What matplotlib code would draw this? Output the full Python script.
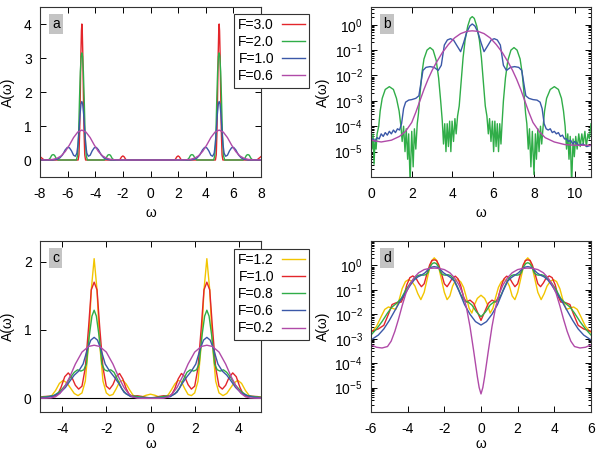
import numpy as np
import matplotlib
matplotlib.use('Agg')
import matplotlib.pyplot as plt
from matplotlib.ticker import LogLocator, NullFormatter, FixedLocator
from matplotlib.lines import Line2D

plt.rcParams['font.family'] = ['Liberation Sans', 'DejaVu Sans']
plt.rcParams['font.size'] = 10
plt.rcParams['mathtext.fontset'] = 'custom'
plt.rcParams['mathtext.rm'] = 'Liberation Sans'
plt.rcParams['mathtext.default'] = 'regular'
plt.rcParams['axes.unicode_minus'] = False

C_RED = '#e3262b'
C_GREEN = '#30ad48'
C_BLUE = '#3b58a8'
C_PURPLE = '#b04aa8'
C_YELLOW = '#f2c500'

# ---------------- panel a (linear) ----------------
a_labels = ['F=3.0', 'F=2.0', 'F=1.0', 'F=0.6']
a_red_x = [-8, -7.85, -7.7, -5.24, -5.18, -5.13, -5.08, -5.04, -5.0, -4.97, -4.94, -4.9, -4.86, -4.81, -4.76, -4.7,
           -2.3, -2.2, -2.1, -2.0, -1.9, -1.8, -1.7, 1.7, 1.8, 1.9, 2.0, 2.1, 2.2, 2.3,
           4.7, 4.76, 4.81, 4.86, 4.9, 4.94, 4.97, 5.0, 5.04, 5.08, 5.13, 5.18, 5.24, 7.7, 7.85, 8]
a_red_y = [0.1, 0.05, 0, 0, 0.15, 0.8, 2.0, 3.1, 3.8, 4.0, 3.8, 3.1, 2.0, 0.8, 0.15, 0,
           0, 0.02, 0.09, 0.12, 0.09, 0.02, 0, 0, 0.02, 0.09, 0.12, 0.09, 0.02, 0,
           0, 0.15, 0.8, 2.0, 3.1, 3.8, 4.0, 3.8, 3.1, 2.0, 0.8, 0.15, 0, 0, 0.05, 0.1]
a_green_x = [-8, -7.4, -7.27, -7.15, -7.05, -6.95, -6.83, -6.7,
             -5.37, -5.29, -5.21, -5.14, -5.08, -5.02, -4.97, -4.92, -4.86, -4.8, -4.73, -4.65, -4.57,
             -3.35, -3.22, -3.1, -3.0, -2.9, -2.78, -2.65, 2.65, 2.78, 2.9, 3.0, 3.1, 3.22, 3.35,
             4.57, 4.65, 4.73, 4.8, 4.86, 4.92, 4.97, 5.02, 5.08, 5.14, 5.21, 5.29, 5.37,
             6.7, 6.83, 6.95, 7.05, 7.15, 7.27, 7.4, 8]
a_green_y = [0, 0, 0.05, 0.14, 0.16, 0.14, 0.05, 0,
             0, 0.12, 0.7, 1.8, 2.6, 3.05, 3.15, 3.05, 2.6, 1.8, 0.7, 0.12, 0,
             0, 0.05, 0.14, 0.16, 0.14, 0.05, 0, 0, 0.05, 0.14, 0.16, 0.14, 0.05, 0,
             0, 0.12, 0.7, 1.8, 2.6, 3.05, 3.15, 3.05, 2.6, 1.8, 0.7, 0.12, 0,
             0, 0.05, 0.14, 0.16, 0.14, 0.05, 0, 0]
a_blue_x = [-8, -7.07, -6.82, -6.57, -6.37, -6.17, -6.02, -5.87, -5.72, -5.57, -5.44, -5.33, -5.25, -5.17, -5.10, -5.03,
            -4.97, -4.91, -4.84, -4.77, -4.69, -4.61, -4.50, -4.37, -4.22, -4.07, -3.92, -3.77, -3.57, -3.37, -3.12, -2.87,
            2.87, 3.12, 3.37, 3.57, 3.77, 3.92, 4.07, 4.22, 4.37, 4.50, 4.61, 4.69, 4.77, 4.84, 4.91,
            4.97, 5.03, 5.10, 5.17, 5.25, 5.33, 5.44, 5.57, 5.72, 5.87, 6.02, 6.17, 6.37, 6.57, 6.82, 7.07, 8]
a_blue_y = [0, 0, 0.015, 0.06, 0.15, 0.3, 0.37, 0.36, 0.27, 0.14, 0.11, 0.2, 0.45, 0.9, 1.35, 1.65,
            1.72, 1.65, 1.35, 0.9, 0.45, 0.2, 0.11, 0.14, 0.27, 0.36, 0.37, 0.3, 0.15, 0.06, 0.015, 0,
            0, 0.015, 0.06, 0.15, 0.3, 0.37, 0.36, 0.27, 0.14, 0.11, 0.2, 0.45, 0.9, 1.35, 1.65,
            1.72, 1.65, 1.35, 0.9, 0.45, 0.2, 0.11, 0.14, 0.27, 0.36, 0.37, 0.3, 0.15, 0.06, 0.015, 0, 0]
a_purple_x = [-8, -7.97, -7.47, -7.07, -6.77, -6.47, -6.17, -5.87, -5.57, -5.27, -4.97, -4.67, -4.37, -4.07, -3.77,
              -3.47, -3.17, -2.87, -2.47, -1.97,
              1.97, 2.47, 2.87, 3.17, 3.47, 3.77, 4.07, 4.37, 4.67, 4.97, 5.27, 5.57, 5.87, 6.17, 6.47, 6.77,
              7.07, 7.47, 7.97, 8]
a_purple_y = [0, 0, 0.003, 0.018, 0.05, 0.12, 0.25, 0.44, 0.66, 0.82, 0.88, 0.82, 0.66, 0.44, 0.25,
              0.12, 0.05, 0.018, 0.003, 0,
              0, 0.003, 0.018, 0.05, 0.12, 0.25, 0.44, 0.66, 0.82, 0.88, 0.82, 0.66, 0.44, 0.25, 0.12, 0.05,
              0.018, 0.003, 0, 0]

# ---------------- panel b (log10 of A) ----------------
b_green_x = [0.0, 0.05, 0.1, 0.15, 0.2, 0.25, 0.3, 0.38, 0.45, 0.55, 0.7, 0.9, 1.1, 1.25, 1.38, 1.47, 1.53, 1.6,
             1.67, 1.73, 1.8, 1.85, 1.92, 2.0, 2.07, 2.13, 2.2, 2.27, 2.33, 2.42, 2.5, 2.6, 2.75, 2.9, 3.05, 3.2,
             3.32, 3.42, 3.5, 3.56, 3.62, 3.68, 3.74, 3.8, 3.86, 3.92, 3.98, 4.05, 4.12, 4.18, 4.25, 4.33, 4.42,
             4.52, 4.62, 4.75, 4.87, 4.97, 5.07, 5.19, 5.32, 5.42, 5.52, 5.61, 5.69, 5.76, 5.82, 5.89, 5.96, 6.02,
             6.08, 6.14, 6.2, 6.26, 6.32, 6.38, 6.44, 6.5, 6.6, 6.72, 6.87, 7.02, 7.17, 7.32, 7.42, 7.5, 7.59,
             7.65, 7.72, 7.78, 7.85, 7.92, 8.0, 8.07, 8.12, 8.19, 8.25, 8.32, 8.38, 8.45, 8.52, 8.62, 8.8, 9.0,
             9.2, 9.35, 9.45, 9.53, 9.6, 9.66, 9.72, 9.78, 9.85, 9.92, 9.98, 10.05, 10.12, 10.2, 10.27, 10.35,
             10.42, 10.5, 10.57, 10.65, 10.72, 10.8]
b_green_log = [-4.4, -4.9, -4.3, -5.5, -4.5, -4.9, -4.3, -4.0, -3.4, -2.9, -2.55, -2.44, -2.55, -2.9, -3.4, -4.0,
               -4.6, -4.0, -5.0, -4.1, -5.3, -4.3, -6.2, -4.2, -5.6, -4.1, -4.9, -3.9, -3.5, -2.6, -1.9, -1.35,
               -1.0, -0.9, -1.0, -1.4, -2.1, -3.0, -3.8, -4.7, -3.9, -5.0, -3.9, -4.8, -3.8, -5.0, -3.8, -4.6,
               -3.7, -4.3, -3.6, -3.2, -2.3, -1.3, -0.6, -0.05, 0.25, 0.32, 0.25, -0.05, -0.6, -1.3, -2.3, -3.2,
               -3.6, -4.3, -3.7, -4.6, -3.8, -5.0, -3.8, -4.8, -3.9, -5.0, -3.9, -4.7, -3.8, -3.0, -2.1, -1.4,
               -1.0, -0.9, -1.0, -1.35, -1.9, -2.6, -3.5, -3.9, -4.9, -4.1, -5.6, -4.2, -5.9, -4.3, -5.3, -4.1,
               -5.0, -4.0, -4.7, -4.0, -3.4, -2.9, -2.55, -2.44, -2.55, -2.9, -3.4, -4.0, -4.9, -4.3, -5.3, -4.4,
               -6.3, -4.5, -5.2, -4.4, -4.9, -4.3, -4.8, -4.3, -4.7, -4.2, -4.8, -4.3, -4.5, -3.9]
b_blue_x = [0.0, 0.1, 0.2, 0.3, 0.4, 0.5, 0.6, 0.7, 0.8, 0.9, 1.0, 1.1, 1.2, 1.3, 1.4, 1.5, 1.6, 1.7, 1.85, 2.0,
            2.2, 2.35, 2.45, 2.55, 2.7, 2.9, 3.1, 3.3, 3.45, 3.6, 3.75, 3.9, 4.05, 4.2, 4.4, 4.55, 4.7, 4.85,
            4.97, 5.1, 5.25, 5.4, 5.55, 5.75, 5.9, 6.05, 6.2, 6.35, 6.5, 6.65, 6.85, 7.05, 7.25, 7.4, 7.5, 7.6,
            7.75, 7.95, 8.15, 8.3, 8.4, 8.5, 8.6, 8.7, 8.8, 8.9, 9.0, 9.1, 9.2, 9.3, 9.4, 9.5, 9.6, 9.7, 9.8,
            9.9, 10.0, 10.2, 10.4, 10.6, 10.8]
b_blue_log = [-4.55, -4.5, -4.6, -4.45, -4.5, -4.3, -4.4, -4.25, -4.35, -4.2, -4.3, -4.15, -4.25, -4.1, -4.15,
              -3.9, -3.3, -3.05, -2.97, -2.95, -2.9, -2.8, -2.3, -1.8, -1.68, -1.65, -1.68, -1.8, -1.6, -0.8,
              -0.6, -0.55, -0.6, -0.8, -1.06, -0.7, -0.3, -0.05, 0.03, -0.05, -0.3, -0.7, -1.06, -0.8, -0.6,
              -0.55, -0.6, -0.8, -1.6, -1.8, -1.68, -1.65, -1.68, -1.8, -2.3, -2.8, -2.9, -2.95, -2.97, -3.05,
              -3.3, -3.9, -4.1, -4.15, -4.1, -4.25, -4.2, -4.3, -4.25, -4.4, -4.35, -4.5, -4.5, -4.6, -4.55,
              -4.7, -4.6, -4.75, -4.7, -4.8, -4.75]
b_purple_x = [0.0, 0.5, 1.0, 1.4, 1.7, 2.0, 2.2, 2.4, 2.6, 2.8, 3.0, 3.2, 3.5, 3.8, 4.1, 4.4, 4.7, 4.97, 5.25,
              5.55, 5.85, 6.15, 6.45, 6.75, 6.95, 7.15, 7.35, 7.55, 7.75, 7.95, 8.25, 8.55, 9.0, 9.5, 10.0, 10.8]
b_purple_log = [-4.55, -4.62, -4.55, -4.4, -4.2, -3.85, -3.45, -3.0, -2.55, -2.15, -1.8, -1.5, -1.1, -0.78,
                -0.52, -0.35, -0.26, -0.24, -0.26, -0.35, -0.52, -0.78, -1.1, -1.5, -1.8, -2.15, -2.55, -3.0,
                -3.45, -3.85, -4.2, -4.45, -4.62, -4.72, -4.75, -4.75]

# ---------------- panels c and d (log10 of A) ----------------
cd_labels = ['F=1.2', 'F=1.0', 'F=0.8', 'F=0.6', 'F=0.2']
cd_yellow_x = [-6.0, -5.7, -5.45, -5.25, -5.05, -4.85, -4.65, -4.48, -4.3, -4.12, -3.95, -3.78, -3.6, -3.45, -3.28,
               -3.1, -2.95, -2.8, -2.68, -2.55, -2.42, -2.3, -2.15, -2.0, -1.85, -1.7, -1.55, -1.4, -1.25, -1.1,
               -0.95, -0.8, -0.65, -0.5, -0.35, -0.2,
               0.0, 0.2, 0.35, 0.5, 0.65, 0.8, 0.95, 1.1, 1.25, 1.4, 1.55, 1.7, 1.85, 2.0, 2.15, 2.3, 2.42, 2.55,
               2.68, 2.8, 2.95, 3.1, 3.28, 3.45, 3.6, 3.78, 3.95, 4.12, 4.3, 4.48, 4.65, 4.85, 5.05, 5.25, 5.45,
               5.7, 6.0]
cd_yellow_log = [-2.75, -2.5, -2.1, -1.8, -1.7, -1.75, -1.8, -1.45, -0.95, -0.66, -0.58, -0.65, -0.85, -1.15, -1.4,
                 -1.1, -0.6, -0.1, 0.2, 0.31, 0.2, -0.1, -0.6, -1.1, -1.4, -1.25, -0.85, -0.62, -0.58, -0.68,
                 -0.9, -1.3, -1.75, -1.95, -1.6, -1.35,
                 -1.22, -1.35, -1.6, -1.95, -1.75, -1.3, -0.9, -0.68, -0.58, -0.62, -0.85, -1.25, -1.4, -1.1, -0.6,
                 -0.1, 0.2, 0.31, 0.2, -0.1, -0.6, -1.1, -1.4, -1.15, -0.85, -0.65, -0.58, -0.66, -0.95, -1.45,
                 -1.8, -1.75, -1.7, -1.8, -2.1, -2.5, -2.75]
cd_red_x = [-6.0, -5.6, -5.3, -5.05, -4.85, -4.6, -4.35, -4.2, -4.05, -3.88, -3.72, -3.55, -3.4, -3.25, -3.1, -2.95,
            -2.8, -2.68, -2.55, -2.42, -2.3, -2.15, -2.0, -1.85, -1.7, -1.55, -1.4, -1.25, -1.1, -0.95, -0.8,
            -0.6, -0.4, -0.2,
            0.0, 0.2, 0.4, 0.6, 0.8, 0.95, 1.1, 1.25, 1.4, 1.55, 1.7, 1.85, 2.0, 2.15, 2.3, 2.42, 2.55, 2.68,
            2.8, 2.95, 3.1, 3.25, 3.4, 3.55, 3.72, 3.88, 4.05, 4.2, 4.35, 4.6, 4.85, 5.05, 5.3, 5.6, 6.0]
cd_red_log = [-2.7, -2.6, -2.45, -2.0, -1.6, -1.52, -1.5, -1.25, -0.8, -0.5, -0.43, -0.52, -0.72, -0.87, -0.75,
              -0.35, 0.02, 0.2, 0.23, 0.2, 0.02, -0.35, -0.75, -0.87, -0.7, -0.5, -0.44, -0.55, -0.85, -1.3,
              -1.5, -1.42, -1.55, -1.9,
              -2.25, -1.9, -1.55, -1.42, -1.5, -1.3, -0.85, -0.55, -0.44, -0.5, -0.7, -0.87, -0.75, -0.35, 0.02,
              0.2, 0.23, 0.2, 0.02, -0.35, -0.75, -0.87, -0.72, -0.52, -0.43, -0.5, -0.8, -1.25, -1.5, -1.52,
              -1.6, -2.0, -2.45, -2.6, -2.7]
cd_green_x = [-6.0, -5.7, -5.4, -5.1, -4.85, -4.6, -4.35, -4.1, -3.85, -3.6, -3.45, -3.3, -3.15, -3.02, -2.9, -2.78,
              -2.65, -2.55, -2.45, -2.32, -2.2, -2.08, -1.95, -1.8, -1.65, -1.5, -1.3, -1.1, -0.9, -0.7, -0.5,
              -0.25,
              0.0, 0.25, 0.5, 0.7, 0.9, 1.1, 1.3, 1.5, 1.65, 1.8, 1.95, 2.08, 2.2, 2.32, 2.45, 2.55, 2.65, 2.78,
              2.9, 3.02, 3.15, 3.3, 3.45, 3.6, 3.85, 4.1, 4.35, 4.6, 4.85, 5.1, 5.4, 5.7, 6.0]
cd_green_log = [-2.85, -2.6, -2.3, -1.95, -1.7, -1.55, -1.35, -1.0, -0.72, -0.5, -0.42, -0.38, -0.4, -0.38, -0.3,
                -0.05, 0.08, 0.11, 0.08, -0.05, -0.3, -0.38, -0.4, -0.38, -0.42, -0.55, -0.85, -1.2, -1.45, -1.5,
                -1.62, -1.9,
                -2.1, -1.9, -1.62, -1.5, -1.45, -1.2, -0.85, -0.55, -0.42, -0.38, -0.4, -0.38, -0.3, -0.05, 0.08,
                0.11, 0.08, -0.05, -0.3, -0.38, -0.4, -0.38, -0.42, -0.5, -0.72, -1.0, -1.35, -1.55, -1.7, -1.95,
                -2.3, -2.6, -2.85]
cd_blue_x = [-6.0, -5.6, -5.3, -5.0, -4.7, -4.4, -4.1, -3.85, -3.65, -3.45, -3.25, -3.05, -2.85, -2.7, -2.55, -2.4,
             -2.25, -2.05, -1.85, -1.65, -1.45, -1.2, -0.9, -0.6, -0.3,
             0.0, 0.3, 0.6, 0.9, 1.2, 1.45, 1.65, 1.85, 2.05, 2.25, 2.4, 2.55, 2.7, 2.85, 3.05, 3.25, 3.45, 3.65,
             3.85, 4.1, 4.4, 4.7, 5.0, 5.3, 5.6, 6.0]
cd_blue_log = [-3.05, -2.85, -2.6, -2.25, -1.85, -1.45, -1.1, -0.8, -0.6, -0.47, -0.4, -0.3, -0.14, -0.07, -0.05,
               -0.07, -0.14, -0.3, -0.4, -0.5, -0.65, -1.05, -1.6, -2.0, -2.3,
               -2.44, -2.3, -2.0, -1.6, -1.05, -0.65, -0.5, -0.4, -0.3, -0.14, -0.07, -0.05, -0.07, -0.14, -0.3,
               -0.4, -0.47, -0.6, -0.8, -1.1, -1.45, -1.85, -2.25, -2.6, -2.85, -3.05]
cd_purple_x = [-6.0, -5.7, -5.4, -5.1, -4.9, -4.7, -4.5, -4.3, -4.1, -3.9, -3.65, -3.4, -3.1, -2.8, -2.55, -2.3,
               -2.0, -1.7, -1.45, -1.2, -1.0, -0.8, -0.6, -0.4, -0.2, -0.1,
               0.0, 0.1, 0.2, 0.4, 0.6, 0.8, 1.0, 1.2, 1.45, 1.7, 2.0, 2.3, 2.55, 2.8, 3.1, 3.4, 3.65, 3.9, 4.1,
               4.3, 4.5, 4.7, 4.9, 5.1, 5.4, 5.7, 6.0]
cd_purple_log = [-3.25, -3.35, -3.38, -3.32, -3.1, -2.7, -2.2, -1.65, -1.15, -0.8, -0.5, -0.3, -0.17, -0.12, -0.11,
                 -0.12, -0.17, -0.3, -0.5, -0.8, -1.15, -1.7, -2.5, -3.5, -4.55, -5.0,
                 -5.26, -5.0, -4.55, -3.5, -2.5, -1.7, -1.15, -0.8, -0.5, -0.3, -0.17, -0.12, -0.11, -0.12, -0.17,
                 -0.3, -0.5, -0.8, -1.15, -1.65, -2.2, -2.7, -3.1, -3.32, -3.38, -3.35, -3.25]

log_ticks = [1e-5, 1e-4, 1e-3, 1e-2, 1e-1, 1e0]
log_tick_labels = [r'$10^{-5}$', r'$10^{-4}$', r'$10^{-3}$', r'$10^{-2}$', r'$10^{-1}$', r'$10^{0}$']

W, H = 596.0, 450.0
fig = plt.figure(figsize=(W / 100, H / 100), dpi=100)


def make_ax(l, t, r, b):
    return fig.add_axes([l / W, 1 - b / H, (r - l) / W, (b - t) / H])


axa = make_ax(40, 7, 261, 177)
axb = make_ax(371, 7, 591, 177)
axc = make_ax(40, 241, 261, 412)
axd = make_ax(371, 241, 591, 412)


def style(ax, logy=False):
    for s in ax.spines.values():
        s.set_linewidth(0.8)
        s.set_color('#333333')
    ax.tick_params(which='both', direction='in', top=True, right=True, width=0.7, labelsize=10)
    ax.tick_params(axis='x', pad=7)
    ax.tick_params(axis='y', pad=6)
    ax.tick_params(which='major', length=4)
    ax.tick_params(which='minor', length=2.5)
    if logy:
        ax.set_yscale('log')
        ax.yaxis.set_major_locator(FixedLocator(log_ticks))
        ax.set_yticklabels(log_tick_labels)
        ax.yaxis.set_minor_locator(LogLocator(base=10, subs=np.arange(2, 10), numticks=20))
        ax.yaxis.set_minor_formatter(NullFormatter())
    ax.set_xlabel('ω', fontsize=10)
    ax.set_ylabel('A(ω)', fontsize=10)


def tag(ax, s, y):
    ax.text(0.055, y, s, transform=ax.transAxes, fontsize=10, va='top', ha='left',
            bbox=dict(boxstyle='square,pad=0.2', fc='#c4c4c4', ec='none'))


lw = 1.0
# panel a
style(axa)
axa.plot(a_red_x, a_red_y, color=C_RED, lw=lw)
axa.plot(a_green_x, a_green_y, color=C_GREEN, lw=lw)
axa.plot(a_blue_x, a_blue_y, color=C_BLUE, lw=lw)
axa.plot(a_purple_x, a_purple_y, color=C_PURPLE, lw=lw)
axa.set_xlim(-8, 8)
axa.set_ylim(-0.5, 4.5)
axa.set_xticks([-8, -6, -4, -2, 0, 2, 4, 6, 8])
axa.set_yticks([0, 1, 2, 3, 4])
tag(axa, 'a', 0.94)

# panel b
style(axb, logy=True)
axb.plot(b_green_x, 10.0 ** np.array(b_green_log), color=C_GREEN, lw=lw)
axb.plot(b_blue_x, 10.0 ** np.array(b_blue_log), color=C_BLUE, lw=lw)
axb.plot(b_purple_x, 10.0 ** np.array(b_purple_log), color=C_PURPLE, lw=lw)
axb.set_xlim(0, 10.8)
axb.set_ylim(1e-6, 5)
axb.set_xticks([0, 2, 4, 6, 8, 10])
tag(axb, 'b', 0.94)

# panels c and d
cd_series = [(cd_yellow_x, cd_yellow_log, C_YELLOW), (cd_red_x, cd_red_log, C_RED),
             (cd_green_x, cd_green_log, C_GREEN), (cd_blue_x, cd_blue_log, C_BLUE),
             (cd_purple_x, cd_purple_log, C_PURPLE)]
style(axc)
axc.axhline(0, color='black', lw=0.8, zorder=1)
for xs, ls, col in cd_series:
    axc.plot(xs, 10.0 ** np.array(ls), color=col, lw=lw, zorder=2)
axc.set_xlim(-5, 5)
axc.set_ylim(-0.2, 2.3)
axc.set_xticks([-4, -2, 0, 2, 4])
axc.set_yticks([0, 1, 2])
tag(axc, 'c', 0.94)

style(axd, logy=True)
for xs, ls, col in cd_series:
    axd.plot(xs, 10.0 ** np.array(ls), color=col, lw=lw)
axd.set_xlim(-6, 6)
axd.set_ylim(1e-6, 10)
axd.set_xticks([-6, -4, -2, 0, 2, 4, 6])
tag(axd, 'd', 0.94)

for ax in (axa, axc):
    ax.yaxis.set_label_coords(-0.115, 0.5)
for ax in (axb, axd):
    ax.yaxis.set_label_coords(-0.185, 0.5)
for ax in (axa, axb):
    ax.xaxis.set_label_coords(0.5, -0.17)
for ax in (axc, axd):
    ax.xaxis.set_label_coords(0.5, -0.145)

# legends
def legend(ax, labels, colors, left, top):
    handles = [Line2D([], [], color=c, lw=lw) for c in colors]
    leg = ax.legend(handles, labels, loc='upper left', bbox_to_anchor=(left / W, 1 - top / H),
                    bbox_transform=fig.transFigure, markerfirst=False, frameon=True, fancybox=False,
                    edgecolor='#333333', framealpha=1, fontsize=10, handlelength=1.6, handletextpad=0.6,
                    labelspacing=0.22, borderpad=0.3, borderaxespad=0)
    leg.get_frame().set_linewidth(0.8)
    leg.set_zorder(10)


legend(axa, a_labels, [C_RED, C_GREEN, C_BLUE, C_PURPLE], 234, 14)
legend(axc, cd_labels, [C_YELLOW, C_RED, C_GREEN, C_BLUE, C_PURPLE], 234, 249)

fig.savefig('out.png', dpi=100)
